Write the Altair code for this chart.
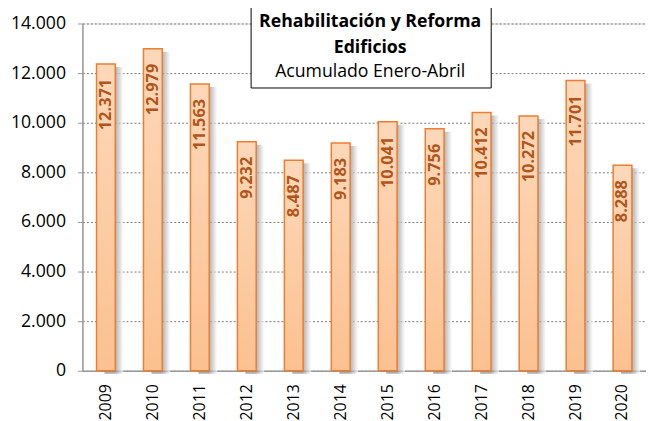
import altair as alt
import pandas as pd

years = ["2009", "2010", "2011", "2012", "2013", "2014", "2015", "2016", "2017", "2018", "2019", "2020"]
values = [12371, 12979, 11563, 9232, 8487, 9183, 10041, 9756, 10412, 10272, 11701, 8288]
y_ticks = [0, 2000, 4000, 6000, 8000, 10000, 12000, 14000]
title_lines = ["Rehabilitación y Reforma", "Edificios", "Acumulado Enero-Abril"]

df = pd.DataFrame({"year": years, "value": values})
df["label"] = [f"{v:,}".replace(",", ".") for v in values]

FONT = "Open Sans"

x = alt.X("year:N", title=None, scale=alt.Scale(paddingInner=0.6, paddingOuter=0.3),
          axis=alt.Axis(labelAngle=-90, labelFontSize=16, labelFont=FONT, labelColor="#000",
                        labelAlign="right", labelBaseline="middle", ticks=False, labelPadding=13,
                        domainColor="#999", domainWidth=1.5, grid=False))
y = alt.Y("value:Q", title=None, scale=alt.Scale(domain=[0, 14000], nice=False),
          axis=alt.Axis(values=y_ticks, labelFontSize=17.8, labelFont=FONT, labelColor="#000",
                        labelExpr="replace(format(datum.value, ','), ',', '.')",
                        tickSize=5, tickColor="#999", labelPadding=12,
                        domainColor="#999", domainWidth=1.5,
                        grid=True, gridColor="#777", gridDash=[2, 2], gridWidth=1))

shadow = alt.Chart(df).mark_bar(
    xOffset=8, yOffset=3,
    color=alt.Gradient(gradient="linear", x1=0, x2=1, y1=0, y2=0,
                       stops=[alt.GradientStop(color="#8a8a8a", offset=0.55),
                              alt.GradientStop(color="#ffffff", offset=1)]),
    opacity=0.7
).encode(x=x, y=y)

bars = alt.Chart(df).mark_bar(
    color=alt.Gradient(gradient="linear", x1=0, x2=0, y1=0, y2=1,
                       stops=[alt.GradientStop(color="#fdd8b9", offset=0),
                              alt.GradientStop(color="#fbc190", offset=1)]),
    stroke="#ed7d31", strokeWidth=1.5
).encode(x="year:N", y="value:Q")

labels = alt.Chart(df).mark_text(
    angle=270, align="right", baseline="middle", dx=-15, fontSize=16.5, fontWeight="bold",
    font=FONT, color="#b0561c"
).encode(x="year:N", y="value:Q", text="label:N")

one = pd.DataFrame({"a": [0]})
box = alt.Chart(one).mark_rect(fill="white", stroke="#000", strokeWidth=1).encode(
    x=alt.value(170), x2=alt.value(412), y=alt.value(-22), y2=alt.value(65))

t1 = alt.Chart(one).mark_text(fontSize=17.8, fontWeight="bold", font=FONT, color="#000").encode(
    x=alt.value(290), y=alt.value(-1), text=alt.value(title_lines[0]))
t2 = alt.Chart(one).mark_text(fontSize=17.8, fontWeight="bold", font=FONT, color="#000").encode(
    x=alt.value(290), y=alt.value(25), text=alt.value(title_lines[1]))
t3 = alt.Chart(one).mark_text(fontSize=17.8, font=FONT, color="#000").encode(
    x=alt.value(290), y=alt.value(49), text=alt.value(title_lines[2]))

chart = alt.layer(shadow, bars, labels, box, t1, t2, t3).properties(
    width=568, height=350, autosize="none",
    padding={"left": 75, "top": 14, "right": 0, "bottom": 50}
).configure_view(stroke=None).configure(background="white")

chart.save("out.html", embed_options={"renderer": "svg", "actions": False})
